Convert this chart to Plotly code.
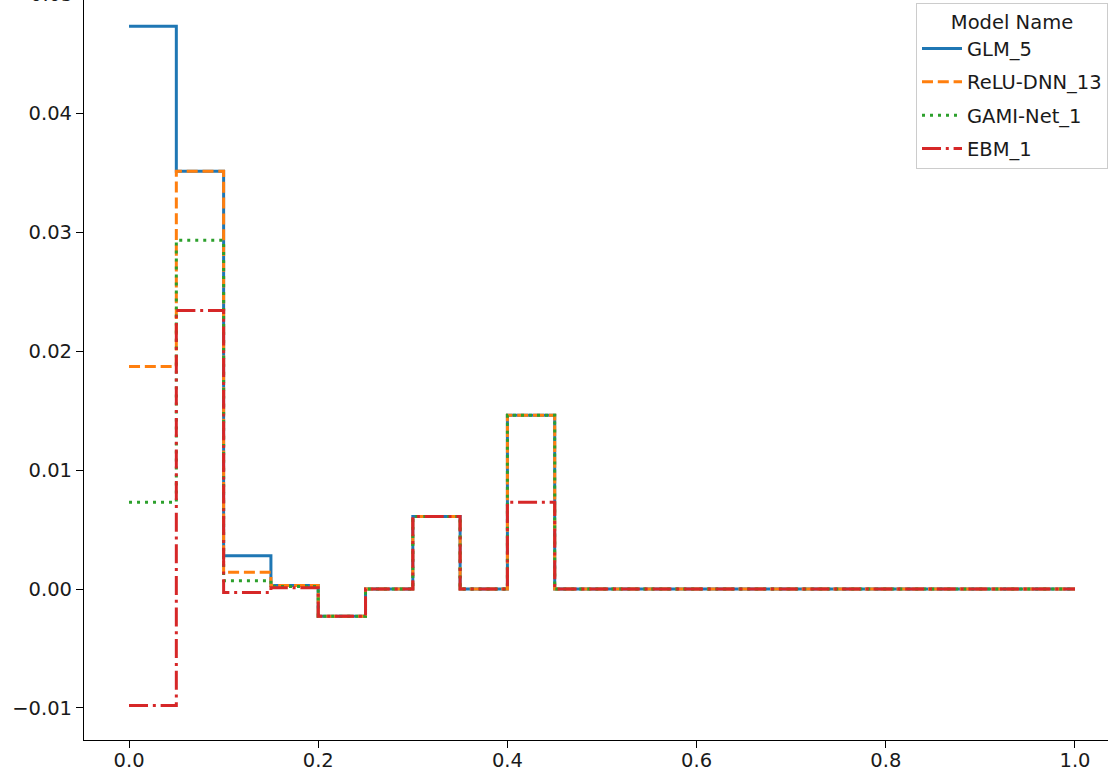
import plotly.graph_objects as go

x_bins = [0.0, 0.05, 0.1, 0.15, 0.2, 0.25, 0.3, 0.35, 0.4, 0.45, 0.5,
          0.55, 0.6, 0.65, 0.7, 0.75, 0.8, 0.85, 0.9, 0.95, 1.0]

glm_5 = [0.0473, 0.0351, 0.0028, 0.0003, -0.0023, 0.0, 0.0061, 0.0, 0.0146, 0.0,
         0.0, 0.0, 0.0, 0.0, 0.0, 0.0, 0.0, 0.0, 0.0, 0.0, 0.0]
relu_dnn_13 = [0.0187, 0.0351, 0.0014, 0.0003, -0.0023, 0.0, 0.0061, 0.0, 0.0146, 0.0,
               0.0, 0.0, 0.0, 0.0, 0.0, 0.0, 0.0, 0.0, 0.0, 0.0, 0.0]
gami_net_1 = [0.0073, 0.0293, 0.0007, 0.0002, -0.0023, 0.0, 0.0061, 0.0, 0.0146, 0.0,
              0.0, 0.0, 0.0, 0.0, 0.0, 0.0, 0.0, 0.0, 0.0, 0.0, 0.0]
ebm_1 = [-0.0098, 0.0234, -0.0003, 0.0001, -0.0023, 0.0, 0.0061, 0.0, 0.0073, 0.0,
         0.0, 0.0, 0.0, 0.0, 0.0, 0.0, 0.0, 0.0, 0.0, 0.0, 0.0]

model_names = ["GLM_5", "ReLU-DNN_13", "GAMI-Net_1", "EBM_1"]
model_values = [glm_5, relu_dnn_13, gami_net_1, ebm_1]
colors = ["#1f77b4", "#ff7f0e", "#2ca02c", "#d62728"]
dashes = ["solid", "11px,4.8px", "3px,5px", "19px,4.8px,3px,4.8px"]

y_ticks = [-0.01, 0.0, 0.01, 0.02, 0.03, 0.04, 0.05]
x_ticks = [0.0, 0.2, 0.4, 0.6, 0.8, 1.0]
x_range = [-0.0476, 1.0349]
y_range = [-0.01269, 0.0495]

fig = go.Figure()
for name, vals, color, dash in zip(model_names, model_values, colors, dashes):
    fig.add_trace(go.Scatter(
        x=x_bins, y=vals, name=name, mode="lines", legendgroup=name,
        line=dict(color=color, width=3, dash=dash, shape="hv"),
    ))

font = dict(family="DejaVu Sans", size=19.5, color="#1a1a1a")

fig.update_layout(
    width=1108, height=772,
    margin=dict(l=84, r=0, t=0, b=32, autoexpand=False),
    paper_bgcolor="white", plot_bgcolor="white",
    font=font,
    showlegend=True,
    legend=dict(
        title=dict(text="Model Name", side="top center", font=dict(size=19.5)),
        x=1.0, xanchor="right", y=0.996, yanchor="top",
        bordercolor="#cccccc", borderwidth=1, bgcolor="rgba(255,255,255,0.8)",
        font=dict(size=19.5), itemwidth=40, tracegroupgap=5,
    ),
    xaxis=dict(
        range=x_range, tickvals=x_ticks,
        ticktext=[f"{v:.1f}" for v in x_ticks],
        showgrid=False, zeroline=False, showline=True, linecolor="black", linewidth=1.2,
        ticks="outside", ticklen=7, tickwidth=1.2, tickcolor="black", automargin=False,
        ticklabelstandoff=-5,
    ),
    yaxis=dict(
        range=y_range, tickvals=y_ticks,
        ticktext=[f"{v:.2f}".replace("-", "\u2212") for v in y_ticks],
        showgrid=False, zeroline=False, showline=True, linecolor="black", linewidth=1.2,
        ticks="outside", ticklen=7, tickwidth=1.2, tickcolor="black", automargin=False,
    ),
)

fig.add_annotation(
    text="0.05", x=0, xref="paper", xanchor="right", xshift=-9,
    y=(y_ticks[-1] - y_range[0]) / (y_range[1] - y_range[0]), yref="paper",
    yanchor="middle", showarrow=False, font=font,
)

fig.write_html("out.html", config={"displayModeBar": False},
               post_script="document.body.style.margin='0';")
